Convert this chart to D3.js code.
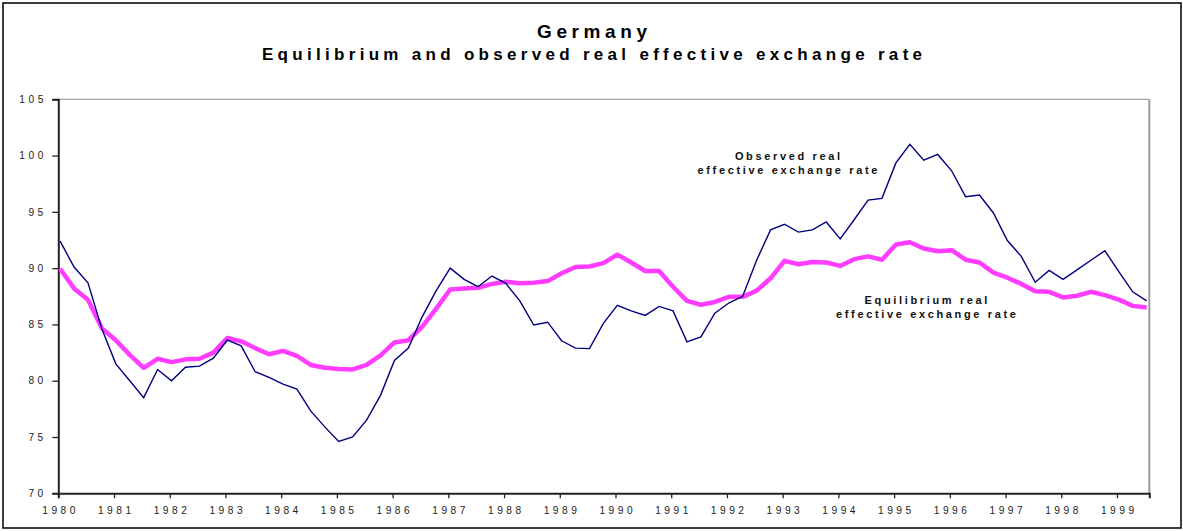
<!DOCTYPE html>
<html>
<head>
<meta charset="utf-8">
<script src="https://cdn.jsdelivr.net/npm/d3@7/dist/d3.min.js"></script>
<style>
  html, body { margin: 0; padding: 0; background: #fff; }
  svg { display: block; }
  text { font-family: "Liberation Sans", Arial, sans-serif; }
</style>
</head>
<body>
<svg id="chart" width="1183" height="531"></svg>
<script>
// ---- data ----
const years = [1980,1981,1982,1983,1984,1985,1986,1987,1988,1989,1990,1991,1992,1993,1994,1995,1996,1997,1998,1999];
const yTicks = [70,75,80,85,90,95,100,105];
const quarters = [];
for (let yr = 1980; yr <= 1999; yr++) for (let q = 1; q <= 4; q++) quarters.push(yr + "Q" + q);
const quarterLabels = quarters.slice(0, 79); // 1980Q1 .. 1999Q3

const observed = [
  92.4, 90.1, 88.7, 84.6, 81.5, 80.0, 78.5, 81.0, 80.0, 81.2,
  81.3, 82.0, 83.6, 83.1, 80.8, 80.3, 79.7, 79.25, 77.3, 75.9,
  74.6, 75.0, 76.5, 78.7, 81.8, 82.9, 85.7, 88.0, 90.0, 89.0,
  88.35, 89.3, 88.65, 87.1, 84.95, 85.2, 83.55, 82.9, 82.85, 85.1,
  86.7, 86.2, 85.8, 86.6, 86.2, 83.45, 83.9, 86.0, 86.9, 87.5,
  90.7, 93.4, 93.9, 93.2, 93.4, 94.1, 92.6, 94.3, 96.05, 96.2,
  99.35, 101.0, 99.6, 100.1, 98.65, 96.35, 96.5, 94.9, 92.45, 91.05,
  88.75, 89.8, 89.0, 89.85, 90.7, 91.55, 89.7, 87.9, 87.1
];
const equilibrium = [
  89.95, 88.2, 87.2, 84.65, 83.6, 82.3, 81.15, 81.95, 81.65, 81.9,
  81.95, 82.5, 83.8, 83.5, 82.9, 82.35, 82.65, 82.2, 81.4, 81.15,
  81.05, 81.0, 81.4, 82.25, 83.4, 83.6, 84.8, 86.4, 88.1, 88.2,
  88.25, 88.6, 88.8, 88.65, 88.7, 88.85, 89.55, 90.1, 90.15, 90.45,
  91.2, 90.5, 89.75, 89.75, 88.35, 87.1, 86.75, 87.0, 87.45, 87.45,
  88.0, 89.1, 90.65, 90.35, 90.55, 90.5, 90.2, 90.8, 91.05, 90.75,
  92.1, 92.3, 91.75, 91.5, 91.6, 90.75, 90.5, 89.6, 89.15, 88.6,
  87.95, 87.9, 87.4, 87.55, 87.9, 87.6, 87.2, 86.65, 86.5
];
const titleLines = ["Germany", "Equilibrium and observed real effective exchange rate"];
const labelObserved = ["Observed real", "effective exchange rate"];
const labelEquilibrium = ["Equilibrium real", "effective exchange rate"];

// quarter label -> decimal time (points sit slightly after the quarter start)
function qTime(lbl) {
  const yr = +lbl.slice(0, 4), q = +lbl.slice(5);
  return yr + (q - 1 + 0.13) / 4;
}

// ---- layout ----
const svg = d3.select("#chart");
const W = 1183, H = 531;
const mLeft = 58.3, mRight = 1149.3, mTop = 99.3, mBottom = 493.3;

const x = d3.scaleLinear().domain([1980, 1999.58]).range([mLeft, mRight]);
const y = d3.scaleLinear().domain([70, 105]).range([mBottom, mTop]);

// outer frame
svg.append("rect").attr("x", 3).attr("y", 3).attr("width", 1178).attr("height", 525)
  .attr("fill", "#fff").attr("stroke", "#000").attr("stroke-width", 1.5);

// plot top & right border
svg.append("line").attr("x1", mLeft).attr("x2", mRight).attr("y1", mTop).attr("y2", mTop)
  .attr("stroke", "#8c8c8c").attr("stroke-width", 1);
svg.append("line").attr("x1", mRight).attr("x2", mRight).attr("y1", mTop).attr("y2", mBottom)
  .attr("stroke", "#9a9a9a").attr("stroke-width", 2);

// title
const titleSizes = [19, 17];
const titleLS = [4.6, 4.3];
const titleY = [38, 60];
svg.append("g").selectAll("text").data(titleLines).enter().append("text")
  .attr("x", 592).attr("y", (d, i) => titleY[i])
  .attr("text-anchor", "middle")
  .attr("font-size", (d, i) => titleSizes[i]).attr("font-weight", "bold")
  .attr("letter-spacing", (d, i) => titleLS[i]).attr("dx", (d, i) => titleLS[i] / 2)
  .attr("fill", "#000")
  .text(d => d);

// axes
const lsTick = 3.5;
const xAxis = d3.axisBottom(x).tickValues(years).tickSize(5).tickFormat(d3.format("d"));
const gx = svg.append("g").attr("transform", `translate(0,${mBottom})`).call(xAxis);
gx.select(".domain").attr("stroke", "#222").attr("stroke-width", 2);
gx.selectAll(".tick line").attr("stroke", "#222").attr("stroke-width", 1.3);
gx.selectAll(".tick text").attr("font-family", "Liberation Sans, Arial, sans-serif")
  .attr("font-size", 10.2).attr("letter-spacing", lsTick).attr("dx", lsTick / 2)
  .attr("y", 13.5).attr("fill", "#222");

const yAxis = d3.axisLeft(y).tickValues(yTicks).tickSize(6).tickFormat(d3.format("d"));
const gy = svg.append("g").attr("transform", `translate(${mLeft},0)`).call(yAxis);
gy.select(".domain").attr("stroke", "#222").attr("stroke-width", 2);
gy.selectAll(".tick line").attr("stroke", "#222").attr("stroke-width", 1.3);
gy.selectAll(".tick text").attr("font-family", "Liberation Sans, Arial, sans-serif")
  .attr("font-size", 10.2).attr("letter-spacing", lsTick).attr("x", -15 + lsTick)
  .attr("fill", "#222");

// lines
const line = d3.line().x((d, i) => x(qTime(quarterLabels[i]))).y(d => y(d));
svg.append("path").datum(equilibrium).attr("d", line)
  .attr("fill", "none").attr("stroke", "#ff3cff").attr("stroke-width", 4.5)
  .attr("stroke-linejoin", "round");
svg.append("path").datum(observed).attr("d", line)
  .attr("fill", "none").attr("stroke", "#000080").attr("stroke-width", 1.4)
  .attr("stroke-linejoin", "miter");

// annotations
function annot(lines, cx, y0) {
  svg.append("g").selectAll("text").data(lines).enter().append("text")
    .attr("x", cx).attr("y", (d, i) => y0 + i * 14.3)
    .attr("text-anchor", "middle").attr("font-size", 11).attr("font-weight", "bold")
    .attr("letter-spacing", 2.65).attr("dx", 1.3).attr("fill", "#111")
    .text(d => d);
}
annot(labelObserved, 787.5, 160);
annot(labelEquilibrium, 926, 304);
</script>
</body>
</html>
